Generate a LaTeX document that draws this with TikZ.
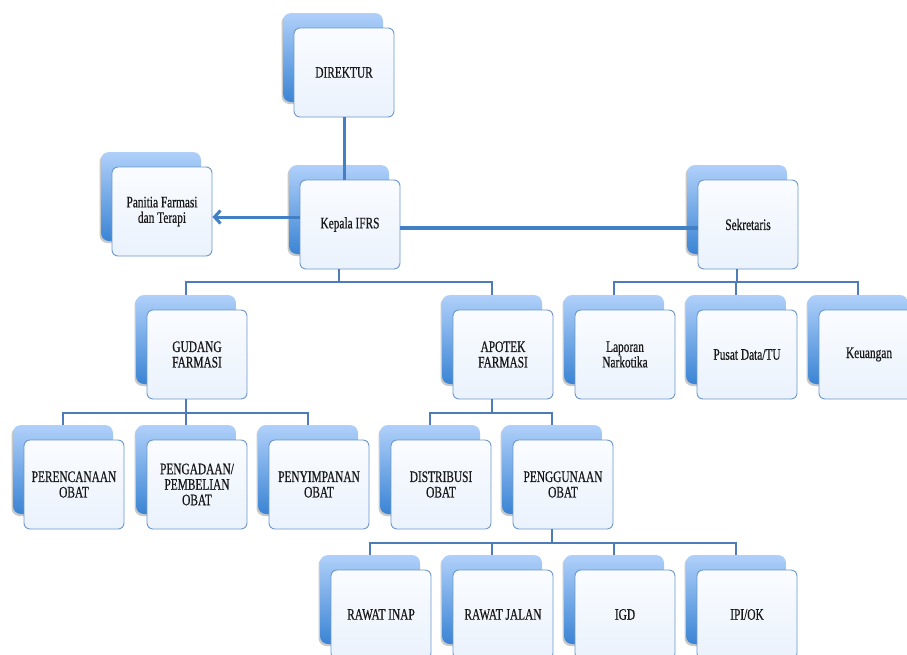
\documentclass[tikz,border=0pt]{standalone}
\usepackage{fontspec}
\setmainfont{Liberation Serif}[FakeStretch=0.71,FakeBold=0.6]
\usetikzlibrary{arrows.meta,shadows}

\definecolor{tabtop}{RGB}{176,208,250}
\definecolor{tabbot}{RGB}{58,132,212}
\definecolor{cardline}{RGB}{108,152,206}
\definecolor{cardtop}{RGB}{250,252,255}
\definecolor{cardbot}{RGB}{234,242,252}
\definecolor{linkblue}{RGB}{78,124,184}
\definecolor{thickblue}{RGB}{66,128,198}

% one organisational unit: a shaded tab behind a light card
% #1 name, #2 #3 top-left corner of the tab, #4 label
\newcommand\orgunit[4]{%
  \node[tabcard] (#1b) at (#2+50,#3+44.5) {};
  \node[frontcard] (#1) at (#2+61,#3+59.5) {#4};
}

\begin{document}
\begin{tikzpicture}[x=1pt,y=-1pt,
  tabcard/.style={minimum width=100pt,minimum height=89pt,inner sep=0pt,
    rounded corners=8pt,top color=tabtop,bottom color=tabbot,draw=none,
    drop shadow={shadow xshift=-1.5pt,shadow yshift=-2pt,opacity=0.3,fill=black!70}},
  frontcard/.style={minimum width=100pt,minimum height=89pt,inner sep=0pt,
    rounded corners=6pt,top color=cardtop,bottom color=cardbot,
    draw=cardline,line width=0.9pt,align=center,text=black!90,
    font=\fontsize{16}{15.5}\selectfont},
  link/.style={draw=linkblue,line width=1.1pt},
  thick link/.style={draw=thickblue,line width=3pt}]

\fill[white] (0,0) rectangle (907,654);
\useasboundingbox (0,0) rectangle (907,654);
\clip (0,0) rectangle (907,654);

% units
\orgunit{dir}{283}{13}{DIREKTUR}
\orgunit{pft}{101}{152}{Panitia Farmasi\\dan Terapi}
\orgunit{kep}{289}{165}{Kepala IFRS}
\orgunit{sek}{687}{165}{Sekretaris}
\orgunit{gud}{136}{295}{GUDANG\\FARMASI}
\orgunit{apo}{442}{295}{APOTEK\\FARMASI}
\orgunit{lap}{564}{295}{Laporan\\Narkotika}
\orgunit{pus}{686}{295}{Pusat Data/TU}
\orgunit{keu}{808}{295}{Keuangan}
\orgunit{ren}{13}{425}{PERENCANAAN\\OBAT}
\orgunit{ada}{136}{425}{PENGADAAN/\\PEMBELIAN\\OBAT}
\orgunit{sim}{258}{425}{PENYIMPANAN\\OBAT}
\orgunit{dis}{380}{425}{DISTRIBUSI\\OBAT}
\orgunit{gun}{502}{425}{PENGGUNAAN\\OBAT}
\orgunit{ina}{320}{555}{RAWAT INAP}
\orgunit{jal}{442}{555}{RAWAT JALAN}
\orgunit{igd}{564}{555}{IGD}
\orgunit{ipi}{686}{555}{IPI/OK}

% bus levels
\coordinate (busA) at (0,282);
\coordinate (busB) at (0,413);
\coordinate (busC) at (0,543);
\coordinate (armL) at (0,217);
\coordinate (armR) at (0,228);

% tree connectors
\draw[link] (kepb |- kep.south) -- (kepb |- busA) -| (gudb.north);
\draw[link] (kepb |- busA) -| (apob.north);
\draw[link] (sekb |- sek.south) -- (sekb |- busA) -| (lapb.north);
\draw[link] (sekb |- busA) -| (keub.north);
\draw[link] (sekb |- busA) -| (pusb.north);
\draw[link] (gudb |- gud.south) -- (gudb |- busB) -| (renb.north);
\draw[link] (gudb |- busB) -| (simb.north);
\draw[link] (gudb |- busB) -| (adab.north);
\draw[link] (apob |- apo.south) -- (apob |- busB) -| (disb.north);
\draw[link] (apob |- busB) -| (gunb.north);
\draw[link] (gunb |- gun.south) -- (gunb |- busC) -| (inab.north);
\draw[link] (gunb |- busC) -| (jalb.north);
\draw[link] (gunb |- busC) -| (igdb.north);
\draw[link] (gunb |- busC) -| (ipib.north);

% heavy links
\draw[thick link] (dir.south) -- (dir.south |- kep.north);
\draw[thick link,-{Straight Barb[length=6pt,width=13pt]}] (kep.west |- armL) -- (pft.east |- armL);
\draw[thick link,line width=3.5pt] (kep.east |- armR) -- (sek.west |- armR);
\end{tikzpicture}
\end{document}
